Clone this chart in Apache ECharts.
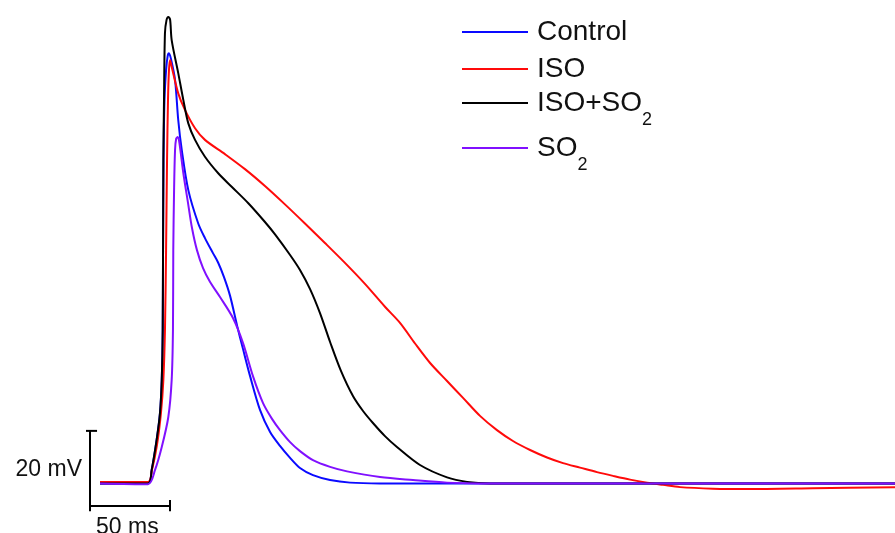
<!DOCTYPE html>
<html>
<head>
<meta charset="utf-8">
<script src="https://cdn.jsdelivr.net/npm/echarts@6/dist/echarts.min.js"></script>
<style>
  html, body { margin: 0; padding: 0; background: #fff; }
  #chart { width: 895px; height: 533px; }
</style>
</head>
<body>
<div id="chart"></div>
<script>
// action potential traces, [time ms, membrane potential mV]
const controlTrace = [[0,-80.1],[30,-80.1],[32.3,-76.5],[35.4,-68.5],[37.5,-61.3],[38.6,-52.5],[39.2,-39.2],[39.4,-17.9],[39.7,6.1],[40.3,22.1],[41.3,30.1],[42.3,33.9],[43.1,34.6],[44.4,33.0],[46.9,27.5],[48.9,16.8],[51.1,8.8],[55.2,-1.9],[61.4,-10.8],[65.6,-14.7],[70.6,-18.7],[73.8,-21.2],[77.5,-25.1],[81.3,-30.1],[85.6,-37.9],[89.4,-44.3],[93.8,-51.5],[100,-60.5],[106.3,-66.4],[112.5,-70.1],[118.8,-73.3],[125,-76.0],[133.1,-77.9],[143.8,-79.2],[156.3,-79.9],[175,-80.1],[496.9,-80.1]]
const isoTrace = [[0,-79.7],[30,-79.7],[32.5,-76.5],[35.6,-69.9],[38.1,-61.3],[39.6,-52.5],[40.6,-39.2],[41.3,-17.9],[41.9,6.1],[42.5,22.1],[43.1,30.1],[43.8,32.8],[44.8,31.0],[48.9,23.9],[53.1,19.5],[59.4,14.6],[65.6,11.5],[78.1,7.7],[90.6,3.7],[103.1,-0.8],[115.6,-5.7],[128.1,-10.8],[140.6,-16.0],[153.1,-21.3],[165.6,-26.9],[178.1,-33.0],[187.5,-37.3],[196.9,-42.8],[206.3,-48.0],[216.9,-52.8],[226.9,-57.3],[237.5,-62.1],[248.1,-65.9],[258.1,-68.8],[268.8,-71.2],[279.4,-73.2],[289.4,-74.7],[300,-75.9],[310.6,-77.1],[320.6,-78.1],[331.3,-79.1],[341.9,-79.9],[351.9,-80.5],[362.5,-81.1],[383.1,-81.5],[404.4,-81.6],[445.6,-81.4],[496.9,-81.1]]
const isoSo2Trace = [[0,-80.1],[30,-80.1],[32.3,-76.5],[35.4,-68.5],[37.5,-61.3],[38.6,-52.5],[39.2,-39.2],[39.6,6.1],[40,22.1],[40.6,40],[41.6,43.5],[42.7,44.3],[43.8,43.6],[44.8,38.1],[48.9,29.3],[52.1,22.1],[55.2,15.9],[59.4,11.5],[65.6,7.0],[73.9,2.6],[82.3,-1.0],[92.7,-5.4],[103.1,-10.4],[109.4,-13.7],[118.8,-19.2],[125,-23.2],[131.3,-28.3],[137.5,-34.7],[143.8,-42.4],[150.6,-50.1],[158.1,-56.8],[164.4,-60.8],[170.6,-64.0],[178.1,-67.5],[185.6,-70.4],[200,-75.2],[216.9,-78.5],[229.4,-79.7],[243.8,-80.1],[496.9,-80.1]]
const so2Trace = [[0,-80.1],[30,-80.3],[34.4,-76.5],[38.6,-70.4],[42.7,-62.4],[44.8,-52.5],[45.6,-39.2],[45.8,-17.9],[46.3,-1.9],[46.9,8.8],[47.6,11.8],[48.6,12.3],[49.6,10.8],[52.1,2.6],[55,-5.3],[57.5,-12.0],[60.6,-17.9],[64.4,-22.7],[68.8,-26.4],[75,-30.4],[83.1,-36.0],[89.4,-42.7],[95.6,-51.5],[101.9,-58.7],[107.5,-62.9],[112.5,-65.9],[118.8,-69.1],[125,-71.5],[133.1,-73.9],[143.8,-75.7],[154.4,-76.9],[175,-78.4],[195.6,-79.2],[216.9,-79.9],[237.5,-80.1],[496.9,-80.1]]

// scale bar: 20 mV by 50 ms
const barX = -6.25
const barBottom = -86.1
const barMv = 20
const barMs = 50

const seriesNames = ['Control', 'ISO', 'ISO+SO2', 'SO2']
const seriesColors = ['#0a0aff', '#ff0a0a', '#000000', '#8010ff']
const traces = [controlTrace, isoTrace, isoSo2Trace, so2Trace]

const chart = echarts.init(document.getElementById('chart'))

const textFont = 'Liberation Sans, Arial, sans-serif'

function legendFor(name, top, label) {
  return {
    data: [name],
    left: 462,
    top: top,
    padding: 0,
    itemWidth: 66,
    itemHeight: 2,
    icon: 'rect',
    selectedMode: false,
    formatter: function () { return label },
    textStyle: {
      color: '#111',
      rich: {
        m: { fontSize: 28, fontFamily: textFont, color: '#111', lineHeight: label.indexOf('{s|') >= 0 ? 52 : 30, padding: [0, 0, 0, 4] },
        s: { fontSize: 18, fontFamily: textFont, color: '#111', verticalAlign: 'bottom' }
      }
    }
  }
}

const scaleStyle = { color: '#000', width: 2 }
function scaleSeries(points) {
  return {
    type: 'line',
    data: points,
    symbol: 'none',
    silent: true,
    lineStyle: scaleStyle,
    itemStyle: { color: '#000' },
    animation: false
  }
}

const series = traces.map(function (d, i) {
  return {
    name: seriesNames[i],
    type: 'line',
    data: d,
    symbol: 'none',
    smooth: 0.3,
    lineStyle: { color: seriesColors[i], width: 2 },
    itemStyle: { color: seriesColors[i] },
    animation: false
  }
})
series.push(scaleSeries([[barX, barBottom - 1.4], [barX, barBottom + barMv]]))
series.push(scaleSeries([[barX - 2.5, barBottom + barMv], [barX + 4.4, barBottom + barMv]]))
series.push(scaleSeries([[barX, barBottom], [barX + barMs, barBottom]]))
series.push(scaleSeries([[barX + barMs, barBottom + 1.6], [barX + barMs, barBottom - 1.4]]))

chart.setOption({
  backgroundColor: '#fff',
  animation: false,
  grid: { left: 0, right: 0, top: 0, bottom: 0 },
  xAxis: { type: 'value', min: -62.5, max: 496.875, show: false },
  yAxis: { type: 'value', min: -93.333, max: 48.8, show: false },
  legend: [
    legendFor('Control', 18, '{m|Control}'),
    legendFor('ISO', 55, '{m|ISO}'),
    legendFor('ISO+SO2', 89, '{m|ISO+SO}{s|2}'),
    legendFor('SO2', 134, '{m|SO}{s|2}')
  ],
  graphic: [
    { type: 'text', right: 895 - 82, top: 458, style: { text: '20 mV', fontSize: 23, fontFamily: textFont, fill: '#111' } },
    { type: 'text', left: 96, top: 516, style: { text: '50 ms', fontSize: 23, fontFamily: textFont, fill: '#111' } }
  ],
  series: series
})
</script>
</body>
</html>
